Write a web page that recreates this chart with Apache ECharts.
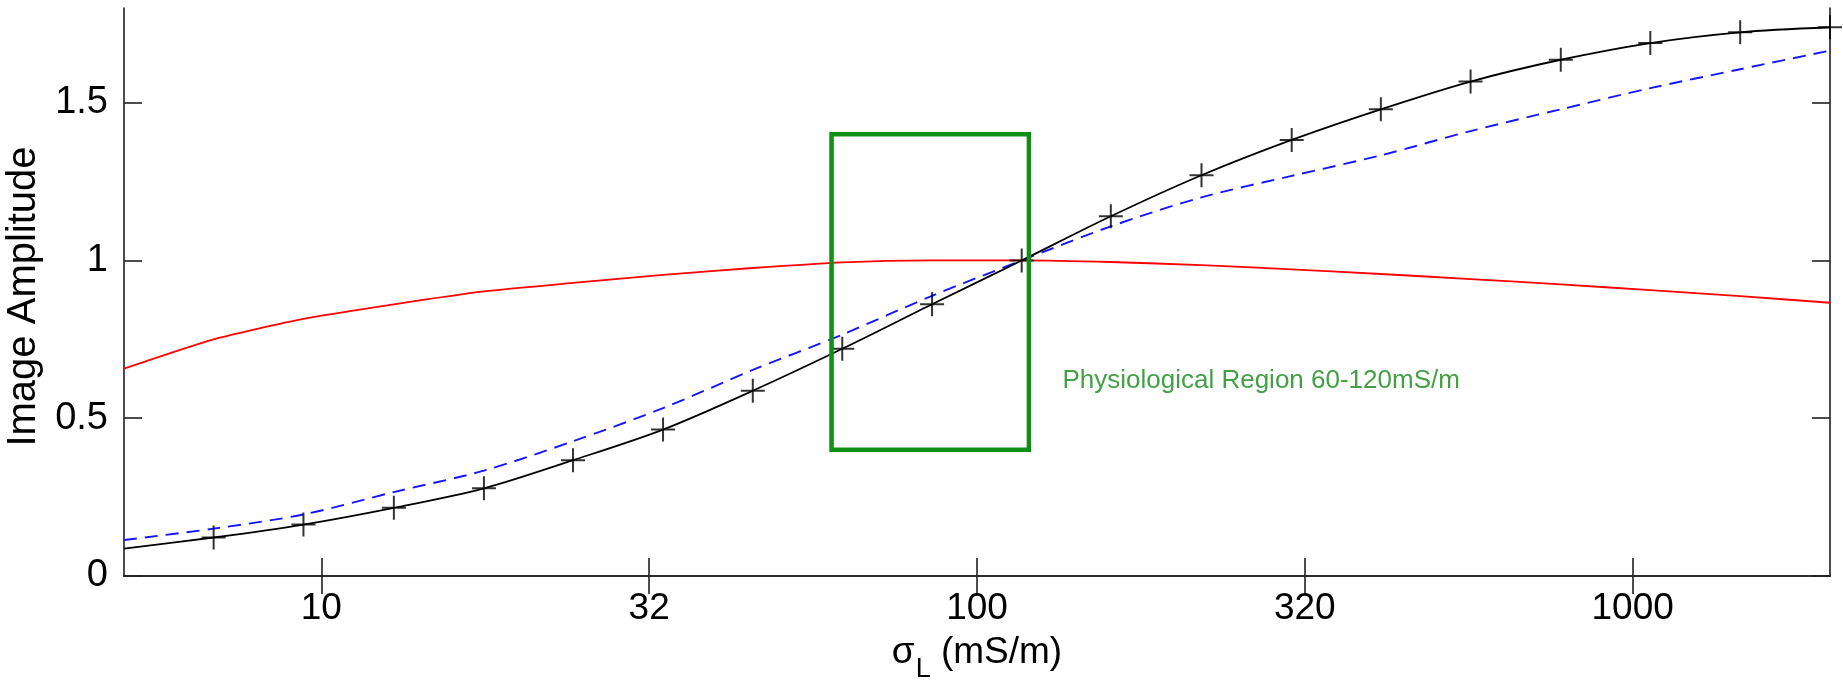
<!DOCTYPE html>
<html>
<head>
<meta charset="utf-8">
<script src="https://cdn.jsdelivr.net/npm/echarts@6/dist/echarts.min.js"></script>
<style>
  html, body { margin: 0; padding: 0; background: #ffffff; }
  #chart { width: 1843px; height: 690px; }
</style>
</head>
<body>
<div id="chart"></div>
<script>
// Lead conductivity sigma_L (mS/m), log-spaced samples
const sigma = [5, 6.85, 9.39, 12.9, 17.7, 24.2, 33.2, 45.5, 62.3, 85.4, 117, 160, 220, 302, 413, 566, 777, 1064, 1459, 2000];
// Normalised image amplitude: solid black (with + markers), dashed blue, solid red
const ampSolid  = [0.087, 0.122, 0.163, 0.216, 0.278, 0.367, 0.464, 0.587, 0.720, 0.861, 1.000, 1.140, 1.270, 1.382, 1.479, 1.567, 1.636, 1.689, 1.723, 1.739];
const ampDashed = [0.114, 0.150, 0.195, 0.266, 0.334, 0.427, 0.532, 0.653, 0.765, 0.888, 1.000, 1.108, 1.200, 1.268, 1.333, 1.410, 1.479, 1.546, 1.606, 1.665];
const ampRed    = [0.657, 0.750, 0.815, 0.861, 0.902, 0.929, 0.954, 0.976, 0.994, 1.000, 1.000, 0.995, 0.985, 0.972, 0.957, 0.941, 0.924, 0.906, 0.887, 0.866];

// Axis ticks
const xTickValues = [10, 31.62, 100, 316.2, 1000];
const xTickLabels = ['10', '32', '100', '320', '1000'];
const yTickValues = [0, 0.5, 1, 1.5];

// Physiological region box (mS/m, amplitude)
const regionX = [60, 120];
const regionY = [0.4, 1.4];
const regionText = 'Physiological Region 60-120mS/m';

const AXIS_COLOR = '#202020';
const FONT = '"Liberation Sans", Arial, Helvetica, sans-serif';
const GREEN = '#0f8f14';
const TEXT_GREEN = '#138816';

function xLabel(v) {
  let best = 0;
  for (let i = 1; i < xTickValues.length; i++) {
    if (Math.abs(Math.log10(xTickValues[i]) - Math.log10(v)) <
        Math.abs(Math.log10(xTickValues[best]) - Math.log10(v))) best = i;
  }
  return xTickLabels[best];
}

const axisLineStyle = { color: AXIS_COLOR, width: 1.6 };
const tickStyle = { show: true, inside: true, length: 18, lineStyle: { color: AXIS_COLOR, width: 1.6 } };

const xCommon = {
  type: 'log', logBase: 10, min: 5, max: 2000,
  splitLine: { show: false }, minorTick: { show: false },
  axisLine: { show: true, lineStyle: axisLineStyle }
};
const yCommon = {
  type: 'value', min: 0, max: 1.8,
  splitLine: { show: false },
  axisLine: { show: true, lineStyle: axisLineStyle }
};

const boxData = [
  [regionX[0], regionY[0]], [regionX[1], regionY[0]],
  [regionX[1], regionY[1]], [regionX[0], regionY[1]],
  [regionX[0], regionY[0]]
];

const chart = echarts.init(document.getElementById('chart'), null, { renderer: 'canvas' });
chart.setOption({
  animation: false,
  backgroundColor: '#ffffff',
  grid: { left: 124, right: 13, top: 8, bottom: 114, containLabel: false, outerBoundsMode: 'none' },
  xAxis: [
    Object.assign({}, xCommon, {
      position: 'bottom',
      axisTick: Object.assign({}, tickStyle, { customValues: xTickValues }),
      axisLabel: {
        customValues: xTickValues, formatter: xLabel,
        color: '#000', fontFamily: FONT, fontSize: 37, margin: 14
      },
      name: '{s|σ}{sub|L}{n| (mS/m)}',
      nameLocation: 'middle', nameGap: 58,
      nameTextStyle: {
        color: '#000', fontFamily: FONT, fontSize: 37,
        rich: {
          s:   { fontFamily: FONT, fontSize: 37, color: '#000', verticalAlign: 'bottom', padding: [0, 0, 12, 0] },
          sub: { fontFamily: FONT, fontSize: 27, color: '#000', verticalAlign: 'bottom', padding: [0, 0, 0, 1] },
          n:   { fontFamily: FONT, fontSize: 37, color: '#000', verticalAlign: 'bottom', padding: [0, 0, 12, 0] }
        }
      }
    }),
    Object.assign({}, xCommon, {
      position: 'top',
      axisTick: Object.assign({}, tickStyle, { customValues: xTickValues }),
      axisLabel: { show: false }
    })
  ],
  yAxis: [
    Object.assign({}, yCommon, {
      position: 'left',
      axisTick: Object.assign({}, tickStyle, { customValues: yTickValues }),
      axisLabel: {
        customValues: yTickValues,
        formatter: v => String(v),
        color: '#000', fontFamily: FONT, fontSize: 38, margin: 16
      },
      name: 'Image Amplitude',
      nameLocation: 'middle', nameGap: 71, nameRotate: 90,
      nameTextStyle: { color: '#000', fontFamily: FONT, fontSize: 40, padding: [0, 9, 0, 0] }
    }),
    Object.assign({}, yCommon, {
      position: 'right',
      axisTick: Object.assign({}, tickStyle, { customValues: yTickValues }),
      axisLabel: { show: false }
    })
  ],
  series: [
    {
      type: 'line', name: 'red', data: sigma.map((x, i) => [x, ampRed[i]]),
      showSymbol: false, symbol: 'none', smooth: 0.2,
      lineStyle: { color: '#ff0000', width: 1.8 }, z: 2
    },
    {
      type: 'line', name: 'dashed', data: sigma.map((x, i) => [x, ampDashed[i]]),
      showSymbol: false, symbol: 'none', smooth: 0.3,
      lineStyle: { color: '#1414ff', width: 1.9, type: [13, 8] }, z: 3
    },
    {
      type: 'line', name: 'solid', data: sigma.map((x, i) => [x, ampSolid[i]]),
      showSymbol: false, symbol: 'none', smooth: 0.3,
      lineStyle: { color: '#000000', width: 1.8 }, z: 4
    },
    {
      type: 'scatter', name: 'markers',
      data: sigma.slice(1).map((x, i) => [x, ampSolid[i + 1]]),
      symbol: 'path://M0,-10L0,10M-10,0L10,0', symbolSize: 24, clip: false,
      itemStyle: { color: 'rgba(0,0,0,0)', borderColor: '#000000', borderWidth: 2 },
      z: 5
    },
    {
      type: 'line', name: 'region', data: boxData,
      showSymbol: false, symbol: 'none',
      lineStyle: { color: GREEN, width: 4.5, cap: 'square', join: 'miter' }, z: 6
    },
    {
      type: 'scatter', name: 'regionLabel',
      data: [[135, 0.62]], symbolSize: 0,
      label: {
        show: true, position: 'right', distance: 0,
        formatter: regionText, color: TEXT_GREEN,
        fontFamily: FONT, fontSize: 26
      },
      z: 6
    }
  ]
});
</script>
</body>
</html>
